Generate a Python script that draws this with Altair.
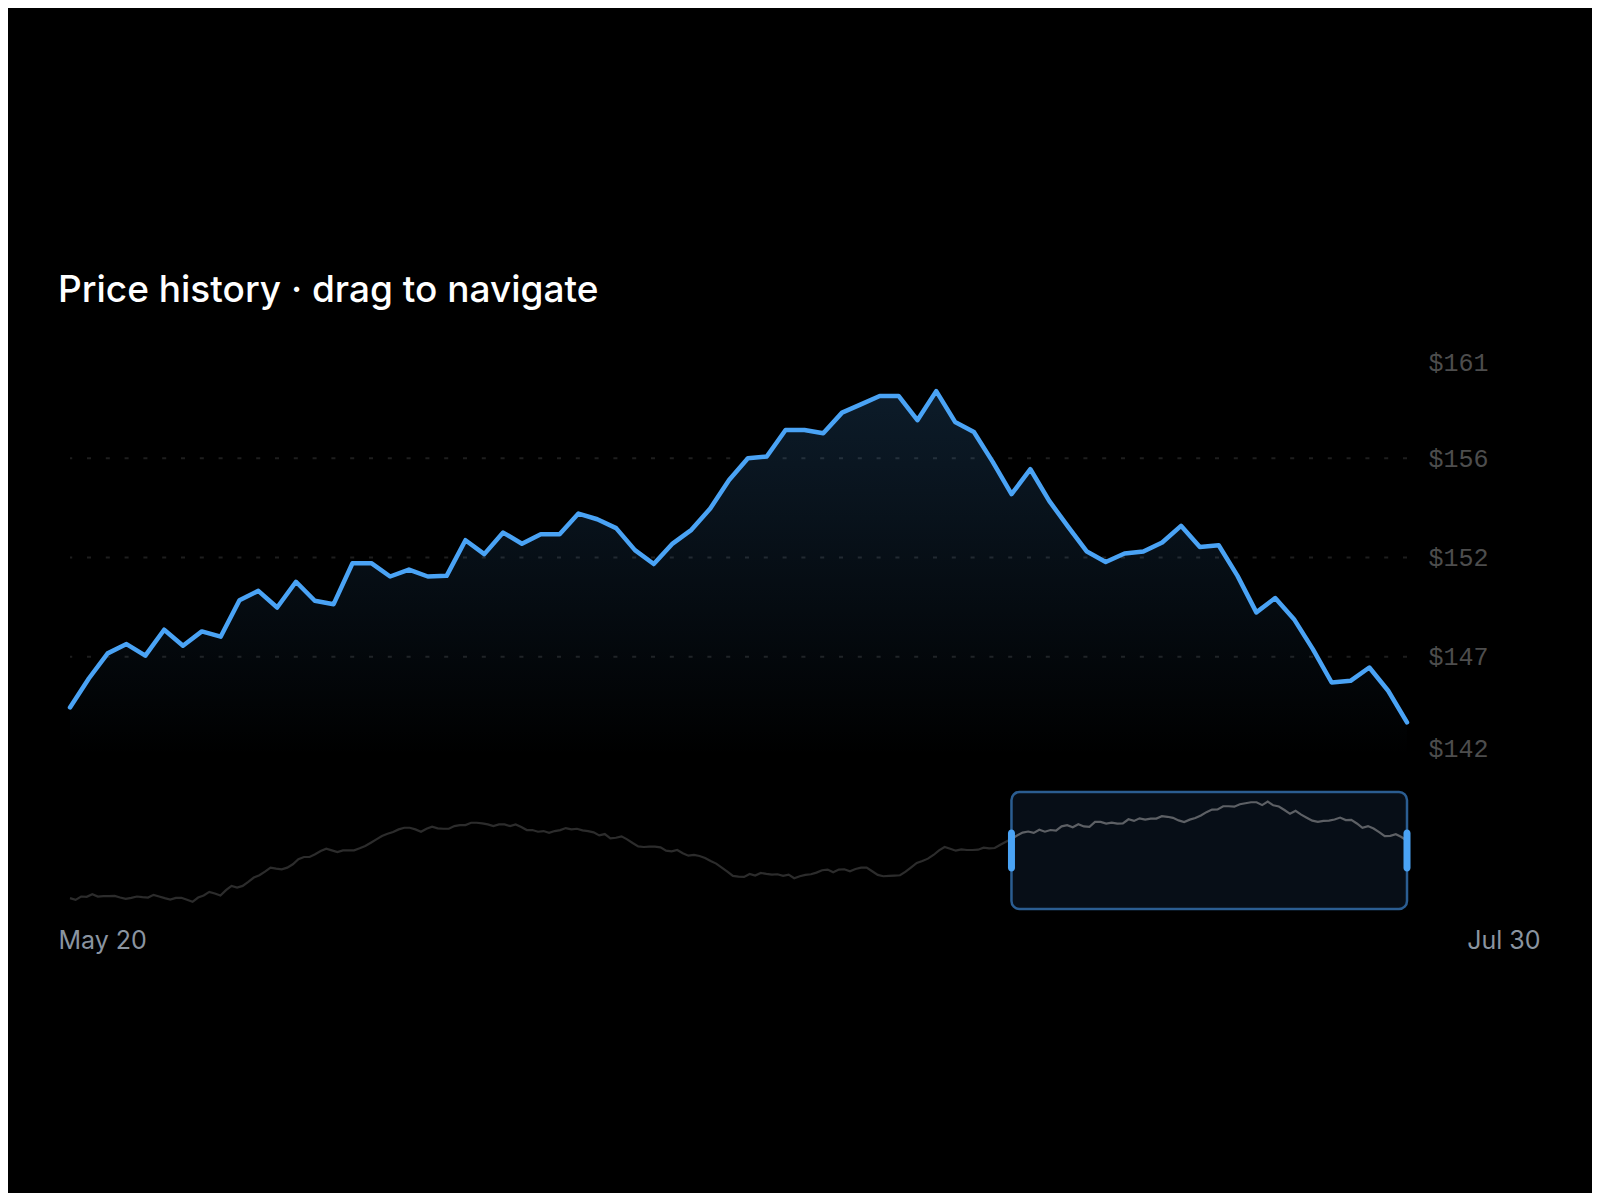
import altair as alt
import pandas as pd

# ---------------- data ----------------
title_text = "Price history · drag to navigate"
range_labels = ["May 20", "Jul 30"]

# full price history shown in the navigator (before the selected window)
history_prices = [
    120.75, 120.08, 121.41, 121.28, 122.35, 121.41, 121.55, 121.55, 121.68, 121.01,
    120.48, 120.88, 121.41, 121.15, 121.01, 122.08, 121.41, 120.75, 120.21, 120.88,
    120.88, 120.08, 119.28, 121.01, 121.81, 123.28, 122.61, 121.81, 123.95, 125.68,
    125.01, 125.68, 127.28, 129.01, 129.95, 131.41, 133.01, 132.61, 132.35, 133.01,
    134.35, 136.35, 137.28, 137.28, 138.35, 139.68, 140.61, 139.95, 139.28, 139.95,
    139.95, 139.95, 140.75, 141.68, 143.01, 144.35, 145.68, 146.61, 147.28, 148.35,
    149.01, 149.01, 148.35, 147.41, 148.61, 149.41, 148.75, 148.61, 148.61, 149.68,
    150.08, 150.08, 151.01, 151.01, 150.75, 150.35, 149.68, 150.35, 150.35, 149.68,
    150.35, 149.28, 148.08, 148.08, 147.41, 147.68, 147.01, 147.68, 148.08,
    148.88, 148.35, 148.61, 147.95, 147.68, 147.15, 145.95, 146.48, 144.75, 145.01,
    145.55, 144.35, 142.88, 141.55, 141.28, 141.41, 141.41, 141.15, 139.81, 139.55,
    140.08, 138.75, 137.81, 138.08, 137.68, 136.88, 135.68, 134.61, 133.01, 131.41,
    129.68, 129.41, 129.28, 130.48, 129.81, 130.88, 130.48, 130.21, 130.35, 129.68,
    130.21, 128.75, 129.55, 130.08, 130.35, 131.01, 131.95, 132.21, 131.15, 132.21,
    132.35, 131.55, 132.48, 133.01, 133.01, 131.55, 130.08, 129.55, 129.68, 129.81,
    129.95, 131.41, 133.15, 134.88, 135.68, 136.61, 138.08, 139.95, 141.28, 140.61,
    139.81, 140.35, 140.08, 140.08, 140.21, 141.01, 140.75, 140.88, 142.21, 143.41,
]

# selected window (shown in the main chart and highlighted in the navigator)
window_prices = [
    144.50, 145.87, 147.06, 147.50, 146.95, 148.18, 147.42, 148.10, 147.85, 149.58,
    150.02, 149.23, 150.45, 149.55, 149.39, 151.33, 151.33, 150.70, 151.03, 150.70,
    150.73, 152.42, 151.76, 152.78, 152.25, 152.70, 152.70, 153.68, 153.41, 152.99,
    151.95, 151.29, 152.26, 152.91, 153.92, 155.27, 156.30, 156.38, 157.64, 157.64,
    157.48, 158.46, 158.85, 159.25, 159.25, 158.10, 159.48, 158.02, 157.54, 156.13,
    154.60, 155.78, 154.28, 153.06, 151.88, 151.39, 151.79, 151.88, 152.31, 153.10,
    152.10, 152.18, 150.73, 149.00, 149.68, 148.68, 147.26, 145.68, 145.76, 146.39,
    145.29, 143.79,
]

y_ticks = [142.2, 146.9, 151.6, 156.3, 161.0]
nav_domain = [116.4, 163.36]

# ---------------- tables ----------------
full_prices = history_prices + window_prices
n_hist = len(history_prices)
last_idx = len(full_prices) - 1
df_full = pd.DataFrame({"idx": list(range(len(full_prices))), "price": full_prices})
df_win = df_full.iloc[n_hist:].reset_index(drop=True)
df_grid = pd.DataFrame({"price": y_ticks[1:-1]})
df_window = pd.DataFrame({"start": [n_hist], "end": [last_idx]})
df_handles = pd.DataFrame({"idx": [n_hist, last_idx]})

# ---------------- style ----------------
W = 1337
H_MAIN = 397
H_NAV = 117
BLUE = "#4aa3f5"

# ---------------- main chart ----------------
x_main_scale = alt.Scale(domain=[n_hist, last_idx], nice=False, zero=False)
y_main_scale = alt.Scale(domain=[y_ticks[0], y_ticks[-1]], nice=False, zero=False)

y_main_axis = alt.Axis(
    orient="right",
    values=y_ticks,
    format="$.0f",
    title=None,
    grid=False,
    ticks=False,
    tickSize=0,
    domain=False,
    labelFont="Liberation Mono",
    labelFontSize=25,
    labelColor="#4d4d4d",
    labelPadding=21,
    labelFlush=True,
    labelFlushOffset=5,
    labelOffset={"condition": {"test": "datum.value == %s" % y_ticks[-1], "value": -4}, "value": 0},
)

grid = alt.Chart(df_grid).mark_rule(
    color="#1e1e1e", strokeWidth=2, strokeDash=[4, 14.8]
).encode(y=alt.Y("price:Q", scale=y_main_scale, axis=y_main_axis))

area = alt.Chart(df_win).mark_area(
    color=alt.LinearGradient(
        gradient="linear",
        x1=0, x2=0, y1=0, y2=1,
        stops=[
            alt.GradientStop(offset=0, color="rgba(74,163,245,0.17)"),
            alt.GradientStop(offset=1, color="rgba(74,163,245,0)"),
        ],
    )
).encode(
    x=alt.X("idx:Q", scale=x_main_scale, axis=None),
    y=alt.Y("price:Q", scale=y_main_scale, axis=y_main_axis),
    y2=alt.datum(y_ticks[0]),
)

line = alt.Chart(df_win).mark_line(
    color=BLUE, strokeWidth=4.5, strokeJoin="round", strokeCap="round"
).encode(
    x=alt.X("idx:Q", scale=x_main_scale, axis=None),
    y=alt.Y("price:Q", scale=y_main_scale, axis=y_main_axis),
)

main = alt.layer(grid, area, line).properties(width=W, height=H_MAIN)

# ---------------- navigator ----------------
x_nav_scale = alt.Scale(domain=[0, last_idx], nice=False, zero=False)
y_nav_scale = alt.Scale(domain=nav_domain, nice=False, zero=False)

label_expr = "datum.value == 0 ? '%s' : '%s'" % (range_labels[0], range_labels[1])

x_nav_axis = alt.Axis(
    values=[0, last_idx],
    labelExpr=label_expr,
    title=None,
    grid=False,
    ticks=False,
    tickSize=0,
    domain=False,
    labelFont="Inter",
    labelFontSize=25,
    labelColor="#8a94a0",
    labelPadding=19.7,
    labelFlush=True,
    labelOffset={"condition": {"test": "datum.value == 0", "value": -12}, "value": 133},
)

nav_dark = alt.Chart(df_full).mark_line(color="#2c2c2c", strokeWidth=2.2).encode(
    x=alt.X("idx:Q", scale=x_nav_scale, axis=x_nav_axis),
    y=alt.Y("price:Q", scale=y_nav_scale, axis=None),
)

window_rect = alt.Chart(df_window).mark_rect(
    fill="#070e17", stroke="#2b5d91", strokeWidth=2.5, cornerRadius=8
).encode(
    x=alt.X("start:Q", scale=x_nav_scale, axis=x_nav_axis),
    x2="end:Q",
)

nav_light = alt.Chart(df_win).mark_line(color="#5d6065", strokeWidth=2.2).encode(
    x=alt.X("idx:Q", scale=x_nav_scale, axis=x_nav_axis),
    y=alt.Y("price:Q", scale=y_nav_scale, axis=None),
)

handles = alt.Chart(df_handles).mark_tick(
    orient="vertical", color=BLUE, size=42, thickness=7, cornerRadius=3.5, opacity=1
).encode(x=alt.X("idx:Q", scale=x_nav_scale, axis=x_nav_axis))

nav = alt.layer(nav_dark, window_rect, nav_light, handles).properties(width=W, height=H_NAV)

# ---------------- compose ----------------
chart = alt.vconcat(main, nav, spacing=36, bounds="flush").properties(
    title=alt.Title(
        title_text,
        anchor="start",
        font="Inter",
        fontSize=37,
        fontWeight=500,
        color="#ffffff",
        offset=40,
    ),
    padding={"left": 50, "top": 264, "right": 52, "bottom": 239},
    background="#000000",
).configure_view(strokeWidth=0)

chart.save("out.html", embed_options={"renderer": "svg", "actions": False})
